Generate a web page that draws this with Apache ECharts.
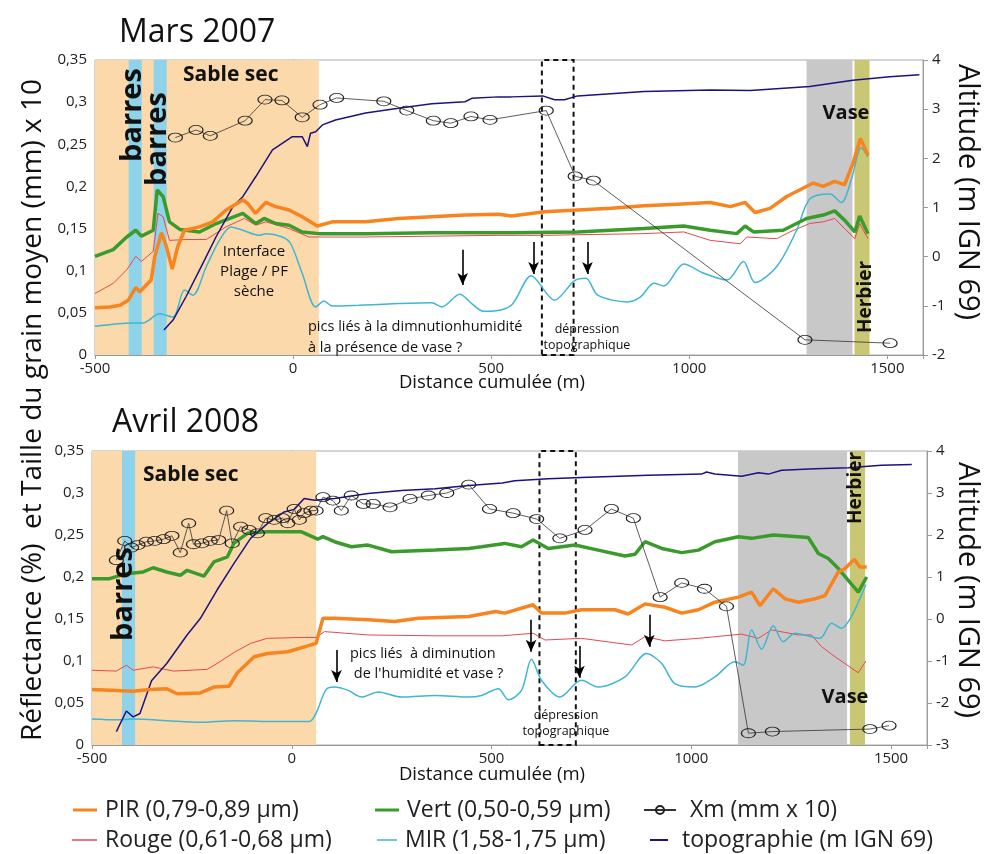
<!DOCTYPE html>
<html>
<head>
<meta charset="utf-8">
<script src="https://cdn.jsdelivr.net/npm/echarts@6/dist/echarts.min.js"></script>
<style>html,body{margin:0;padding:0;background:#fff}#main{width:994px;height:854px}</style>
</head>
<body>
<div id="main"></div>
<script>
// ---- Mars 2007 : [distance (m), value]
const pir2007 = [[-500,0.056],[-462,0.057],[-437,0.059],[-416,0.065],[-397,0.080],[-387,0.075],[-358,0.089],[-349,0.117],[-332,0.145],[-320,0.129],[-305,0.102],[-291,0.129],[-274,0.148],[-236,0.152],[-203,0.158],[-169,0.172],[-127,0.184],[-115,0.180],[-95,0.168],[-69,0.181],[-44,0.176],[-10,0.172],[23,0.164],[61,0.153],[99,0.158],[183,0.158],[266,0.162],[350,0.164],[434,0.166],[518,0.167],[551,0.165],[635,0.170],[718,0.172],[802,0.174],[886,0.177],[970,0.179],[1053,0.181],[1104,0.176],[1141,0.181],[1166,0.169],[1204,0.174],[1246,0.188],[1313,0.204],[1338,0.200],[1367,0.206],[1392,0.202],[1413,0.227],[1432,0.257],[1451,0.237]];
const vert2007 = [[-500,0.117],[-454,0.125],[-420,0.140],[-397,0.148],[-383,0.141],[-353,0.148],[-343,0.196],[-328,0.188],[-312,0.158],[-286,0.149],[-236,0.146],[-194,0.156],[-127,0.168],[-94,0.156],[-73,0.162],[-44,0.156],[-10,0.154],[23,0.146],[65,0.144],[183,0.144],[350,0.145],[518,0.145],[551,0.145],[718,0.146],[886,0.150],[986,0.153],[1053,0.148],[1120,0.144],[1141,0.153],[1162,0.146],[1237,0.148],[1296,0.162],[1338,0.166],[1367,0.171],[1392,0.160],[1418,0.146],[1430,0.165],[1451,0.144]];
const rouge2007 = [[-500,0.073],[-454,0.085],[-420,0.101],[-397,0.117],[-383,0.111],[-353,0.123],[-341,0.168],[-328,0.164],[-312,0.136],[-270,0.137],[-219,0.137],[-169,0.152],[-123,0.162],[-94,0.154],[-69,0.158],[-10,0.150],[40,0.140],[183,0.140],[518,0.142],[635,0.142],[886,0.144],[986,0.146],[1053,0.136],[1129,0.132],[1145,0.140],[1221,0.138],[1254,0.146],[1304,0.156],[1338,0.158],[1367,0.162],[1392,0.150],[1418,0.138],[1430,0.156],[1451,0.138]];
const mir2007 = [[-500,0.034],[-404,0.038],[-379,0.038],[-337,0.049],[-303,0.045],[-274,0.077],[-253,0.071],[-219,0.105],[-186,0.136],[-157,0.152],[-127,0.148],[-85,0.142],[-69,0.144],[-27,0.140],[-6,0.132],[23,0.097],[57,0.057],[78,0.064],[99,0.058],[166,0.059],[266,0.061],[350,0.062],[375,0.057],[421,0.072],[451,0.061],[480,0.052],[500,0.052],[551,0.059],[601,0.094],[660,0.065],[710,0.088],[739,0.091],[769,0.071],[844,0.063],[877,0.069],[911,0.085],[936,0.082],[986,0.108],[1037,0.097],[1095,0.089],[1137,0.111],[1166,0.086],[1221,0.105],[1271,0.148],[1304,0.185],[1355,0.191],[1384,0.181],[1409,0.208],[1434,0.246],[1451,0.235]];
const topo2007 = [[-326,-1.49],[-303,-1.29],[-270,-0.81],[-236,-0.27],[-194,0.41],[-152,1.02],[-127,1.22],[-94,1.63],[-52,2.17],[-2,2.44],[23,2.44],[36,2.24],[44,2.51],[57,2.54],[74,2.68],[107,2.78],[183,2.92],[266,3.02],[350,3.11],[434,3.15],[451,3.22],[518,3.25],[551,3.25],[630,3.27],[660,3.19],[685,3.19],[718,3.27],[886,3.36],[1053,3.39],[1154,3.38],[1304,3.46],[1413,3.59],[1506,3.66],[1581,3.70]];
const xm2007 = [[-297,0.258],[-245,0.267],[-209,0.260],[-121,0.278],[-71,0.303],[-28,0.302],[23,0.282],[68,0.297],[110,0.305],[229,0.301],[287,0.290],[354,0.278],[398,0.275],[449,0.283],[497,0.279],[639,0.290],[712,0.212],[758,0.207],[1292,0.018],[1507,0.014]];

// ---- Avril 2008
const pir2008 = [[-500,0.066],[-439,0.065],[-397,0.064],[-355,0.066],[-313,0.067],[-287,0.061],[-229,0.062],[-195,0.069],[-157,0.070],[-136,0.086],[-94,0.105],[-61,0.109],[-10,0.111],[40,0.118],[61,0.121],[78,0.151],[107,0.151],[191,0.149],[258,0.147],[317,0.151],[443,0.153],[510,0.159],[533,0.157],[604,0.167],[625,0.157],[684,0.157],[725,0.161],[809,0.161],[842,0.156],[884,0.168],[934,0.164],[976,0.157],[1018,0.161],[1059,0.170],[1118,0.176],[1151,0.182],[1172,0.166],[1205,0.186],[1235,0.174],[1268,0.170],[1310,0.174],[1335,0.178],[1368,0.206],[1385,0.210],[1408,0.221],[1422,0.212],[1439,0.212]];
const vert2008 = [[-500,0.198],[-456,0.198],[-414,0.204],[-372,0.206],[-347,0.211],[-313,0.206],[-279,0.202],[-262,0.208],[-220,0.201],[-195,0.218],[-161,0.224],[-145,0.240],[-111,0.252],[-61,0.254],[23,0.254],[65,0.245],[78,0.248],[107,0.242],[149,0.236],[191,0.238],[250,0.230],[359,0.232],[443,0.234],[475,0.236],[533,0.240],[575,0.236],[604,0.244],[642,0.234],[709,0.238],[767,0.232],[834,0.225],[859,0.227],[884,0.242],[926,0.234],[976,0.229],[1018,0.232],[1059,0.242],[1118,0.248],[1151,0.246],[1205,0.250],[1268,0.248],[1293,0.247],[1318,0.228],[1343,0.222],[1368,0.210],[1393,0.196],[1418,0.182],[1439,0.200]];
const rouge2008 = [[-500,0.089],[-439,0.088],[-414,0.095],[-397,0.089],[-347,0.093],[-296,0.088],[-212,0.090],[-187,0.097],[-145,0.110],[-103,0.121],[-61,0.127],[23,0.128],[61,0.128],[82,0.135],[191,0.131],[359,0.130],[527,0.130],[604,0.133],[634,0.125],[725,0.127],[851,0.119],[884,0.129],[934,0.124],[1018,0.127],[1126,0.132],[1168,0.127],[1201,0.137],[1268,0.131],[1301,0.131],[1326,0.117],[1360,0.105],[1418,0.086],[1437,0.100]];
const mir2008 = [[-500,0.031],[-439,0.030],[-397,0.031],[-313,0.029],[-229,0.027],[-145,0.029],[-61,0.028],[44,0.028],[61,0.038],[86,0.066],[107,0.069],[141,0.065],[175,0.057],[216,0.063],[275,0.057],[359,0.059],[443,0.057],[475,0.059],[517,0.067],[542,0.054],[575,0.065],[600,0.102],[625,0.077],[671,0.057],[725,0.077],[767,0.069],[834,0.081],[888,0.109],[926,0.097],[959,0.073],[1009,0.069],[1059,0.081],[1109,0.099],[1130,0.095],[1151,0.137],[1176,0.114],[1205,0.142],[1230,0.123],[1260,0.133],[1322,0.127],[1351,0.145],[1376,0.139],[1401,0.153],[1437,0.191]];
const topo2008 = [[-439,-2.68],[-414,-2.19],[-397,-2.33],[-380,-2.25],[-351,-1.47],[-313,-1.06],[-262,-0.38],[-229,0.01],[-187,0.69],[-145,1.32],[-103,1.92],[-61,2.27],[-19,2.55],[6,2.61],[31,2.87],[57,2.83],[107,2.87],[191,2.99],[275,3.06],[359,3.10],[443,3.18],[527,3.24],[558,3.29],[642,3.34],[725,3.37],[892,3.42],[1026,3.45],[1038,3.50],[1059,3.45],[1126,3.40],[1168,3.48],[1193,3.45],[1226,3.54],[1310,3.58],[1393,3.60],[1476,3.66],[1552,3.68]];
const xm2008 = [[-439,0.220],[-418,0.243],[-401,0.235],[-385,0.238],[-364,0.242],[-343,0.243],[-321,0.245],[-300,0.249],[-279,0.229],[-258,0.264],[-246,0.239],[-225,0.240],[-204,0.243],[-183,0.244],[-163,0.279],[-149,0.240],[-128,0.260],[-107,0.256],[-86,0.252],[-65,0.270],[-44,0.268],[-23,0.270],[-10,0.264],[6,0.281],[19,0.268],[31,0.276],[48,0.279],[61,0.279],[78,0.295],[103,0.291],[124,0.279],[149,0.297],[179,0.287],[204,0.287],[246,0.283],[296,0.293],[342,0.297],[388,0.300],[443,0.310],[495,0.281],[554,0.276],[613,0.269],[671,0.246],[734,0.256],[800,0.281],[855,0.270],[922,0.176],[976,0.193],[1033,0.186],[1088,0.165],[1143,0.014],[1203,0.016],[1447,0.019],[1495,0.023]];

// shaded zones (distance ranges)
const zones2007 = { sable: [-500, 65], barres: [[-415, -382], [-352, -319]], vase: [1296, 1412], herbier: [1417, 1455], depression: [628, 708] };
const zones2008 = { sable: [-500, 61], barres: [[-425, -392]], vase: [1117, 1390], herbier: [1397, 1435], depression: [620, 711] };
// arrows: [distance, from value, to value]
const arrows2007 = [[428, 0.125, 0.083], [607, 0.134, 0.096], [743, 0.134, 0.096]];
const arrows2008 = [[112, 0.113, 0.075], [599, 0.149, 0.111], [720, 0.118, 0.080], [895, 0.155, 0.117]];

const names = {
  pir: 'PIR (0,79-0,89 µm)', vert: 'Vert (0,50-0,59 µm)', xm: 'Xm (mm x 10)',
  rouge: 'Rouge (0,61-0,68 µm)', mir: 'MIR (1,58-1,75 µm)', topo: 'topographie (m IGN 69)'
};
const FONT = '"Open Sans", "Noto Sans", sans-serif';
const C = { pir: '#f7841e', rouge: '#e8474f', vert: '#3a9b2c', mir: '#3fb6d2', topo: '#1b1381', xm: '#333' };

function zoneAreas(z) {
  const list = [[{ xAxis: z.sable[0], itemStyle: { color: '#fcd9aa' } }, { xAxis: z.sable[1] }]];
  z.barres.forEach(function (r) {
    list.push([{ xAxis: r[0], itemStyle: { color: '#8fd3ea' } }, { xAxis: r[1] }]);
  });
  list.push([{ xAxis: z.vase[0], itemStyle: { color: '#c8c8c8' } }, { xAxis: z.vase[1] }]);
  list.push([{ xAxis: z.herbier[0], itemStyle: { color: '#c9c774' } }, { xAxis: z.herbier[1] }]);
  list.push([{ xAxis: z.depression[0], itemStyle: { color: 'rgba(0,0,0,0)', borderColor: '#111', borderWidth: 2, borderType: [5, 4] } }, { xAxis: z.depression[1] }]);
  return list;
}

function arrowLines(a) {
  return a.map(function (r) { return [{ coord: [r[0], r[1]] }, { coord: [r[0], r[2]] }]; });
}

function gridSeries(i, d) {
  const base = { type: 'line', xAxisIndex: i, yAxisIndex: 2 * i, symbol: 'none', animation: false };
  return [
    Object.assign({}, base, { name: names.rouge, data: d.rouge, z: 3, lineStyle: { color: C.rouge, width: 1 }, itemStyle: { color: C.rouge } }),
    Object.assign({}, base, { name: names.mir, data: d.mir, z: 3, smooth: 0.3, lineStyle: { color: C.mir, width: 1.5 }, itemStyle: { color: C.mir },
      markLine: { silent: true, symbol: ['none', 'arrow'], symbolSize: [8, 12], label: { show: false },
        lineStyle: { color: '#000', width: 1.6, type: 'solid' }, data: arrowLines(d.arrows) } }),
    Object.assign({}, base, { name: names.vert, data: d.vert, z: 4, lineStyle: { color: C.vert, width: 3.5 }, itemStyle: { color: C.vert } }),
    Object.assign({}, base, { name: names.pir, data: d.pir, z: 5, lineStyle: { color: C.pir, width: 3.5 }, itemStyle: { color: C.pir } }),
    Object.assign({}, base, { name: names.topo, data: d.topo, yAxisIndex: 2 * i + 1, z: 4, lineStyle: { color: C.topo, width: 1.5 }, itemStyle: { color: C.topo } }),
    Object.assign({}, base, { name: names.xm, data: d.xm, z: 6, symbol: 'circle', symbolSize: [14, 9], showSymbol: true,
      lineStyle: { color: C.xm, width: 0.8 }, itemStyle: { color: 'rgba(0,0,0,0)', borderColor: '#222', borderWidth: 1 },
      markArea: { silent: true, data: zoneAreas(d.zones) } })
  ];
}

const gridAxisX = function (i) {
  return {
    type: 'value', gridIndex: i, min: -500, max: 1590, interval: 500,
    axisLine: { lineStyle: { color: '#999' } },
    axisTick: { show: true, length: 4, lineStyle: { color: '#999' } },
    splitLine: { show: false },
    axisLabel: { fontSize: 15, color: '#222', fontFamily: FONT, margin: 6,
      formatter: function (v) { return v % 500 === 0 ? String(v) : ''; } }
  };
};
const leftY = function (i) {
  return {
    type: 'value', gridIndex: i, position: 'left', min: 0, max: 0.35, interval: 0.05,
    axisLine: { show: true, lineStyle: { color: '#999' } },
    axisTick: { show: true, length: 4, lineStyle: { color: '#999' } },
    splitLine: { show: false },
    axisLabel: { fontSize: 15, color: '#222', fontFamily: FONT, margin: 8,
      formatter: function (v) { return v === 0 ? '0' : String(Math.round(v * 100) / 100).replace('.', ','); } }
  };
};
const rightY = function (i, min) {
  return {
    type: 'value', gridIndex: i, position: 'right', min: min, max: 4, interval: 1,
    axisLine: { show: true, lineStyle: { color: '#999' } },
    axisTick: { show: true, length: 5, lineStyle: { color: '#999' } },
    splitLine: { show: false },
    axisLabel: { fontSize: 15, color: '#222', fontFamily: FONT, margin: 9 }
  };
};

function txt(x, y, text, size, opts) {
  opts = opts || {};
  return {
    type: 'text', x: x, y: y, rotation: opts.rot || 0, z: 100,
    style: {
      text: text, fontSize: size, fontWeight: opts.bold ? 'bold' : 'normal', fontFamily: FONT,
      fill: '#111', align: opts.align || 'center', textAlign: opts.align || 'center',
      verticalAlign: 'middle', textVerticalAlign: 'middle', lineHeight: opts.lh || Math.round(size * 1.35)
    }
  };
}

// legend entries: [series key, icon left x, row centre y, icon width, icon thickness]
const legendItems = [
  ['pir', 73, 810, 24, 3], ['vert', 375, 810, 24, 3], ['xm', 643, 810, 32, 10],
  ['rouge', 72, 840, 25, 1.5], ['mir', 377, 840, 20, 1.5], ['topo', 650, 840, 18, 2]
];

const dom = document.getElementById('main');
const myChart = echarts.init(dom);
const option = {
  backgroundColor: '#fff',
  animation: false,
  grid: [
    { left: 95, top: 60, width: 828, height: 295, show: true, borderColor: '#aaa', borderWidth: 1 },
    { left: 92, top: 451, width: 835, height: 294, show: true, borderColor: '#aaa', borderWidth: 1 }
  ],
  xAxis: [gridAxisX(0), gridAxisX(1)],
  yAxis: [leftY(0), rightY(0, -2), leftY(1), rightY(1, -3)],
  legend: legendItems.map(function (it) {
    const leg = {
      data: [names[it[0]]], left: it[1], top: it[2] - 13, padding: 0, itemWidth: it[3], itemHeight: it[4], itemGap: 0,
      selectedMode: false, textStyle: { fontSize: 23, lineHeight: 26, fontFamily: FONT, color: '#222', padding: [0, 0, 0, it[0] === 'xm' || it[0] === 'topo' ? 9 : 3] }
    };
    if (it[0] !== 'xm') leg.icon = 'rect';
    return leg;
  }),
  series: gridSeries(0, { pir: pir2007, vert: vert2007, rouge: rouge2007, mir: mir2007, topo: topo2007, xm: xm2007, zones: zones2007, arrows: arrows2007 })
    .concat(gridSeries(1, { pir: pir2008, vert: vert2008, rouge: rouge2008, mir: mir2008, topo: topo2008, xm: xm2008, zones: zones2008, arrows: arrows2008 })),
  graphic: [
    txt(119, 33, 'Mars 2007', 32, { align: 'left' }),
    txt(112, 423, 'Avril 2008', 32, { align: 'left' }),
    txt(33, 410, 'Réflectance (%)  et Taille du grain moyen (mm) x 10', 28, { rot: Math.PI / 2 }),
    txt(967, 192, 'Altitude (m IGN 69)', 29, { rot: -Math.PI / 2 }),
    txt(967, 590, 'Altitude (m IGN 69)', 29, { rot: -Math.PI / 2 }),
    txt(492, 383, 'Distance cumulée (m)', 18.5),
    txt(492, 775, 'Distance cumulée (m)', 18.5),
    // Mars 2007 annotations
    txt(183, 75, 'Sable sec', 21, { bold: true, align: 'left' }),
    txt(133, 115, 'barres', 29, { bold: true, rot: Math.PI / 2 }),
    txt(158, 139, 'barres', 29, { bold: true, rot: Math.PI / 2 }),
    txt(254, 272, 'Interface\nPlage / PF\nsèche', 15, { lh: 20 }),
    txt(308, 337, 'pics liés à la dimnutionhumidité\nà la présence de vase ?', 14.5, { align: 'left', lh: 21 }),
    txt(587, 337, 'dépression\ntopographique', 12.5, { lh: 16 }),
    txt(846, 113, 'Vase', 20, { bold: true }),
    txt(866, 297, 'Herbier', 19, { bold: true, rot: Math.PI / 2 }),
    // Avril 2008 annotations
    txt(143, 475, 'Sable sec', 21, { bold: true, align: 'left' }),
    txt(124, 594, 'barres', 29, { bold: true, rot: Math.PI / 2 }),
    txt(350, 664, 'pics liés  à diminution\n de l\'humidité et vase ?', 14.5, { align: 'left', lh: 20 }),
    txt(566, 723, 'dépression\ntopographique', 12.5, { lh: 16 }),
    txt(845, 697, 'Vase', 20, { bold: true }),
    txt(856, 488, 'Herbier', 19, { bold: true, rot: Math.PI / 2 })
  ]
};
myChart.setOption(option, true);
</script>
</body>
</html>
